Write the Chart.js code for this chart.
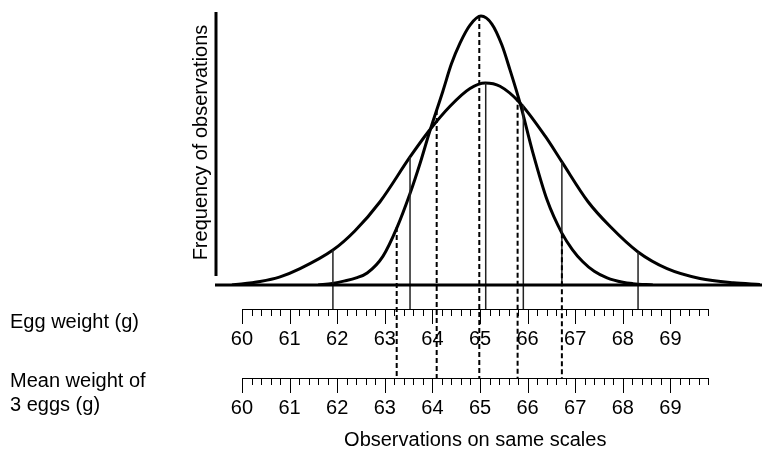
<!DOCTYPE html>
<html>
<head>
<meta charset="utf-8">
<title>Egg weight vs mean weight of 3 eggs</title>
<script src="https://cdn.jsdelivr.net/npm/chart.js"></script>
<style>
  html, body { margin: 0; padding: 0; background: #fff; }
  #wrap { width: 762px; height: 451px; position: relative; }
</style>
</head>
<body>
<div id="wrap"><canvas id="eggChart"></canvas></div>
<script>
// Egg weight (g) curve
const eggWeight = [59.79, 60.38, 60.80, 61.22, 61.91, 62.37, 62.90, 63.53, 63.93, 64.37, 64.79, 65.11, 65.42, 65.84, 66.37, 66.72, 67.27, 67.73, 68.32, 68.93, 69.62, 70.32, 70.88];
const eggFreq   = [0, 1.3, 3.0, 6.0, 12.8, 19.8, 30.5, 46.9, 56.5, 65.5, 72.0, 74.0, 72.8, 66.7, 54.5, 45.1, 30.5, 21.5, 12.1, 6.0, 2.4, 0.8, 0.2];

// Mean weight of 3 eggs (g) curve
const meanWeight = [61.60, 61.90, 62.16, 62.40, 62.63, 62.96, 63.26, 63.53, 63.74, 63.93, 64.22, 64.40, 64.58, 64.79, 65.02, 65.25, 65.46, 65.63, 65.84, 66.11, 66.41, 66.72, 66.94, 67.16, 67.40, 67.67, 68.00, 68.21, 68.63];
const meanFreq   = [0, 0.6, 1.5, 2.6, 4.4, 10.5, 21.2, 33.5, 44.5, 55.5, 71.0, 81.0, 88.6, 95.2, 98.5, 95.6, 87.9, 78.8, 66.7, 48.5, 31.1, 19.0, 13.0, 8.5, 5.0, 2.6, 1.0, 0.5, 0];

// solid guide lines under the egg weight curve
const eggLineAt  = [61.91, 63.53, 65.12, 65.91, 66.72, 68.32];
const eggLineTop = [12.8, 46.9, 74.0, 66.0, 45.1, 12.1];
const eggLineToScale = [true, true, true, true, false, true];

// dashed guide lines under the mean weight curve
const meanLineAt  = [63.25, 64.09, 64.985, 65.79, 66.72];
const meanLineTop = [21.2, 64.1, 98.5, 69.0, 19.0];

// scale rulers
const scaleLabels = ['60', '61', '62', '63', '64', '65', '66', '67', '68', '69'];
const scaleStart = 60;
const scaleEnd = 69.8;
const minorStep = 0.2;

const FONT = '20px "Liberation Sans", Arial, sans-serif';

function toPoints(xs, ys) {
  return xs.map((x, i) => ({ x: x, y: ys[i] }));
}

function drawRuler(ctx, xs, top) {
  ctx.save();
  ctx.strokeStyle = '#000';
  ctx.lineWidth = 1;
  ctx.beginPath();
  ctx.moveTo(Math.round(xs.getPixelForValue(scaleStart)) + 0.5, top + 0.5);
  ctx.lineTo(Math.round(xs.getPixelForValue(scaleEnd)) + 0.5, top + 0.5);
  const n = Math.round((scaleEnd - scaleStart) / minorStep);
  for (let i = 0; i <= n; i++) {
    const px = Math.round(xs.getPixelForValue(scaleStart + i * minorStep)) + 0.5;
    ctx.moveTo(px, top);
    ctx.lineTo(px, top + (i % 5 === 0 ? 15 : 7));
  }
  ctx.stroke();
  ctx.fillStyle = '#000';
  ctx.font = FONT;
  ctx.textAlign = 'center';
  ctx.textBaseline = 'alphabetic';
  scaleLabels.forEach(lbl => {
    ctx.fillText(lbl, xs.getPixelForValue(Number(lbl)), top + 36);
  });
  ctx.restore();
}

const EGG_RULER_Y = 309;
const MEAN_RULER_Y = 378;

const extras = {
  id: 'extras',
  afterDatasetsDraw(chart) {
    const ctx = chart.ctx;
    const xs = chart.scales.x;
    const ys = chart.scales.y;
    const area = chart.chartArea;

    // solid guide lines
    ctx.save();
    ctx.strokeStyle = '#222';
    ctx.lineWidth = 1.5;
    eggLineAt.forEach((v, i) => {
      const px = xs.getPixelForValue(v);
      ctx.beginPath();
      ctx.moveTo(px, ys.getPixelForValue(eggLineTop[i]));
      ctx.lineTo(px, eggLineToScale[i] ? EGG_RULER_Y : area.bottom);
      ctx.stroke();
    });
    ctx.restore();

    // dashed guide lines
    ctx.save();
    ctx.strokeStyle = '#000';
    ctx.lineWidth = 2;
    ctx.setLineDash([5, 3]);
    meanLineAt.forEach((v, i) => {
      const px = xs.getPixelForValue(v);
      ctx.beginPath();
      ctx.moveTo(px, ys.getPixelForValue(meanLineTop[i]));
      ctx.lineTo(px, MEAN_RULER_Y);
      ctx.stroke();
    });
    ctx.restore();

    // axes
    ctx.save();
    ctx.strokeStyle = '#000';
    ctx.lineWidth = 3;
    ctx.beginPath();
    ctx.moveTo(area.left, area.top);
    ctx.lineTo(area.left, area.bottom - 9);
    ctx.moveTo(area.left - 1, area.bottom);
    ctx.lineTo(area.right, area.bottom);
    ctx.stroke();
    ctx.restore();

    drawRuler(ctx, xs, EGG_RULER_Y);
    drawRuler(ctx, xs, MEAN_RULER_Y);

    // text
    ctx.save();
    ctx.fillStyle = '#000';
    ctx.font = FONT;
    ctx.textAlign = 'left';
    ctx.textBaseline = 'alphabetic';
    ctx.fillText('Egg weight (g)', 10, 328);
    ctx.fillText('Mean weight of', 10, 387);
    ctx.fillText('3 eggs (g)', 10, 411);
    ctx.textAlign = 'center';
    const mid = (xs.getPixelForValue(scaleStart) + xs.getPixelForValue(scaleEnd)) / 2;
    ctx.fillText('Observations on same scales', mid, 446);
    ctx.translate(207, 142.5);
    ctx.rotate(-Math.PI / 2);
    ctx.fillText('Frequency of observations', 0, 0);
    ctx.restore();
  }
};

new Chart(document.getElementById('eggChart'), {
  type: 'line',
  data: {
    datasets: [
      {
        label: 'Egg weight (g)',
        data: toPoints(eggWeight, eggFreq),
        borderColor: '#000',
        borderWidth: 3,
        pointRadius: 0,
        cubicInterpolationMode: 'monotone',
        fill: false
      },
      {
        label: 'Mean weight of 3 eggs (g)',
        data: toPoints(meanWeight, meanFreq),
        borderColor: '#000',
        borderWidth: 3,
        pointRadius: 0,
        cubicInterpolationMode: 'monotone',
        fill: false
      }
    ]
  },
  options: {
    responsive: true,
    maintainAspectRatio: false,
    animation: false,
    layout: { padding: { left: 216, right: 0, top: 12, bottom: 166 } },
    plugins: { legend: { display: false }, tooltip: { enabled: false } },
    scales: {
      x: { type: 'linear', min: 59.454, max: 70.924, display: false },
      y: { type: 'linear', min: 0, max: 100, display: false }
    }
  },
  plugins: [extras]
});
</script>
</body>
</html>
